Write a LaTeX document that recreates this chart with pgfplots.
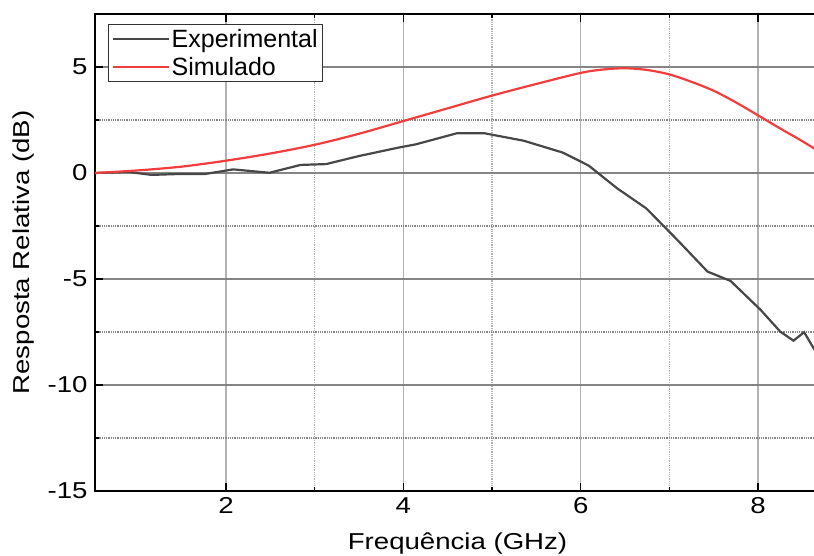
\documentclass[border=0pt]{standalone}
\usepackage{pgfplots}
\pgfplotsset{compat=1.18}
\usepackage{fontspec}
\setmainfont{Liberation Sans}
\newfontfamily\widefont[FakeStretch=1.2]{Liberation Sans}

\definecolor{expgray}{HTML}{474747}
\definecolor{simred}{HTML}{F23D3D}

\begin{document}
\begin{tikzpicture}
\begin{axis}[
  scale only axis,
  width=725.1pt,
  height=477pt,
  xmin=0.523, xmax=8.70,
  ymin=-15, ymax=7.5,
  xtick={2,4,6,8},
  minor x tick num=1,
  ytick={-15,-10,-5,0,5},
  minor y tick num=1,
  ytick pos=left,
  tick align=inside,
  major tick length=8pt,
  minor tick length=4pt,
  every tick/.style={black, line width=1.5pt},
  axis line style={black, line width=1.8pt},
  grid=both,
  x grid style={color=black!30, line width=1.4pt},
  y grid style={color=black!48, line width=1.2pt},
  minor grid style={color=black!25, line width=0.8pt, densely dotted},
  /pgf/number format/assume math mode=true,
  tick label style={font=\widefont\fontsize{23}{27}\selectfont},
  xticklabel style={yshift=-3pt},
  yticklabel style={xshift=-4pt},
  label style={font=\widefont\fontsize{23}{27}\selectfont},
  xlabel={Frequência (GHz)},
  ylabel={Resposta Relativa (dB)},
  xlabel style={yshift=-12pt},
  ylabel style={yshift=6pt},
  legend cell align=left,
  legend style={at={(rel axis cs:0,1)}, anchor=north west, xshift=13pt, yshift=-10pt,
    font=\fontsize{25}{30}\selectfont, draw=black!80, line width=1pt,
    inner xsep=3pt, inner ysep=3pt, row sep=4pt},
  legend image code/.code={\draw[#1, line width=2.2pt] (0pt,0pt) -- (56pt,0pt);},
]
\addplot[color=expgray, line width=2.2pt] coordinates {
  (0.523,0.0) (0.9,0.05) (1.16,-0.09) (1.45,-0.05) (1.76,-0.05) (2.08,0.17)
  (2.49,0.01) (2.84,0.38) (3.13,0.42) (3.5,0.8) (3.96,1.21) (4.14,1.35)
  (4.6,1.87) (4.92,1.87) (5.36,1.52) (5.8,0.96) (6.09,0.35) (6.41,-0.72)
  (6.74,-1.67) (7.1,-3.2) (7.43,-4.65) (7.69,-5.09) (8.03,-6.46) (8.25,-7.48)
  (8.4,-7.91) (8.52,-7.51) (8.66,-8.5) (8.75,-9.2)
};
\addlegendentry{Experimental}
\addplot[color=simred, line width=2.2pt, smooth] coordinates {
  (0.523,0.0) (1.0,0.12) (1.5,0.3) (2.0,0.58) (2.5,0.92) (3.0,1.33)
  (3.5,1.85) (4.0,2.45) (4.5,3.05) (5.0,3.65) (5.5,4.2) (6.0,4.72)
  (6.25,4.88) (6.5,4.94) (6.75,4.86) (7.0,4.65) (7.25,4.3) (7.5,3.88)
  (7.75,3.33) (8.0,2.72) (8.25,2.1) (8.5,1.5) (8.75,0.85)
};
\addlegendentry{Simulado}
\end{axis}
\pgfresetboundingbox
\path (-95pt,-65pt) rectangle (719pt,491pt);
\end{tikzpicture}
\end{document}
